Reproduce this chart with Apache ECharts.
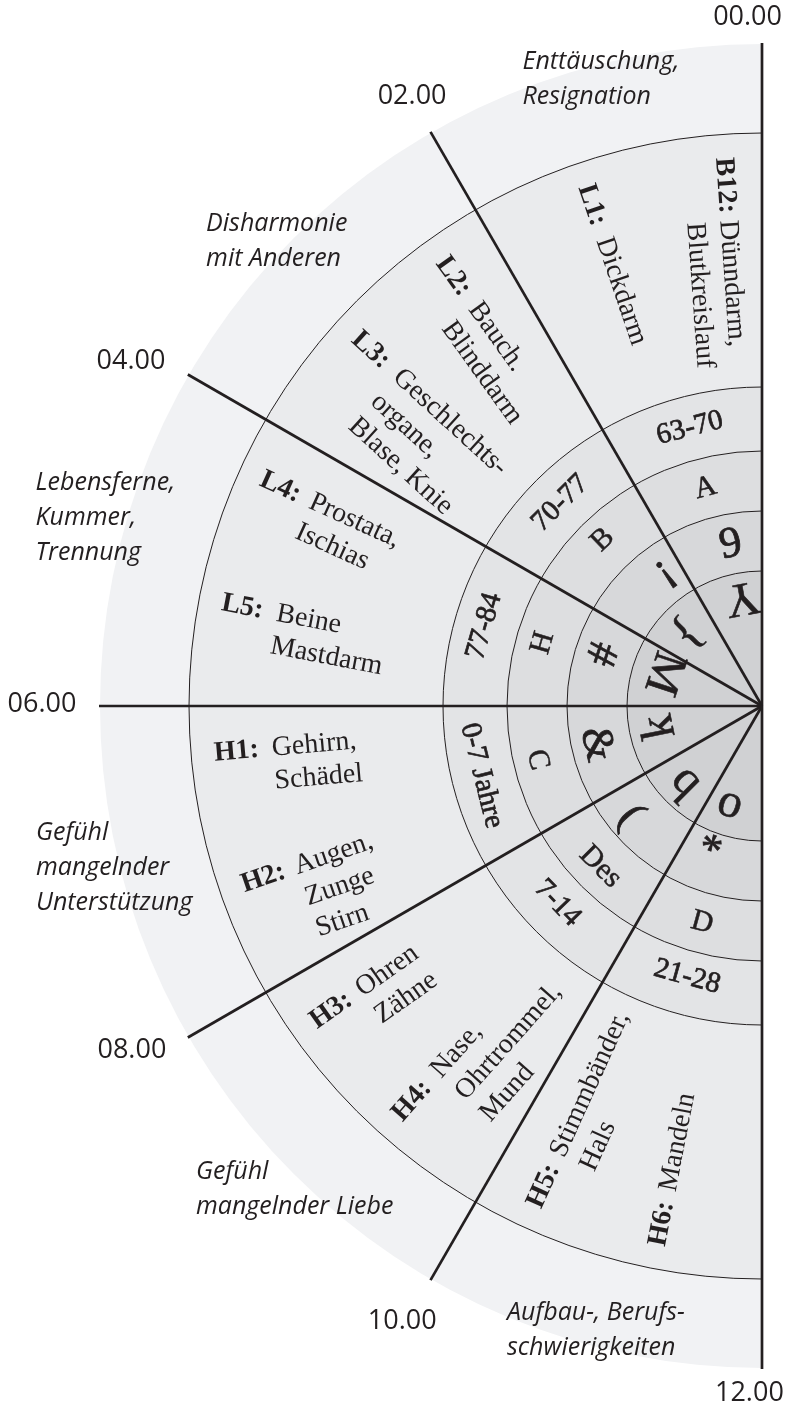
<!DOCTYPE html>
<html><head><meta charset="utf-8">
<script src="https://cdn.jsdelivr.net/npm/echarts@6/dist/echarts.min.js"></script>
<style>html,body{margin:0;padding:0;background:#fff}#chart{width:791px;height:1407px}</style>
</head><body><div id="chart"></div>
<script>
// ---------------- data ----------------
const hourMarks   = [0, 2, 4, 6, 8, 10, 12];
const hourLabels  = ['00.00', '02.00', '04.00', '06.00', '08.00', '10.00', '12.00'];
const ringRadii   = [0, 135, 195, 255, 319, 573, 662];           // ring boundaries (radius units)
const ageLabels   = ['63-70', '70-77', '77-84', '0-7 Jahre', '7-14', '21-28'];
const phaseLabels = ['A', 'B', 'H', 'C', 'Des', 'D'];
const signLabels  = ['9', '¡', '#', '&', '(', '*'];
const coreSigns   = ['Y', '}', 'M', 'k', 'b', 'o'];
const organCodes  = ['B12:', 'L1:', 'L2:', 'L3:', 'L4:', 'L5:', 'H1:', 'H2:', 'H3:', 'H4:', 'H5:', 'H6:'];
const organNames  = [
  'Dünndarm,\nBlutkreislauf', 'Dickdarm', 'Bauch.\nBlinddarm', 'Geschlechts-\norgane,\nBlase, Knie',
  'Prostata,\nIschias', 'Beine\nMastdarm', 'Gehirn,\nSchädel', 'Augen,\nZunge\nStirn',
  'Ohren\nZähne', 'Nase,\nOhrtrommel,\nMund', 'Stimmbänder,\nHals', 'Mandeln'];
const emotionTexts = [
  'Enttäuschung,\nResignation', 'Disharmonie\nmit Anderen', 'Lebensferne,\nKummer,\nTrennung',
  'Gefühl\nmangelnder\nUnterstützung', 'Gefühl\nmangelnder Liebe', 'Aufbau-, Berufs-\nschwierigkeiten'];

// ---------------- layout / style ----------------
const INK = '#231f20';
const SERIF = '"Liberation Serif", "DejaVu Serif", serif';
const SANS = '"Open Sans", "DejaVu Sans", sans-serif';
const ringFill = ['#d0d1d3', '#d7d8da', '#dddee0', '#e3e4e6', '#eaebed', '#f1f2f4'];
const ageAt   = [[287, 0.97], [286, 2.99], [289, 4.93], [289, 6.93], [284, 8.93], [281, 10.97]];
const phaseAt = [[225, 0.97], [230, 2.92], [228, 4.93], [231, 6.90], [228, 8.99], [225, 10.97]];
const signAt  = [[164, 0.73], [168, 2.40], [165, 4.80], [170, 6.87], [172, 8.67], [155, 10.67]];
const coreAt  = [[111, 0.69], [105, 3.05], [104, 4.77], [104, 6.77], [109, 9.00], [106, 10.80]];
const coreTurn = Math.PI;   // the core ring glyphs are set upside down
const organR = 550;
const organAt = [0.27, 1.25, 2.38, 3.18, 4.37, 5.28, 6.33, 7.27, 8.35, 9.23, 10.37, 11.27];
const organIndent = [63, 56, 56, 56, 54, 56, 58, 56, 56, 58, 56, 56];
const emotionAt = [[687, 1.36], [736, 3.27], [760, 4.86], [737, 6.66], [733, 8.63], [658, 10.48]];
const clockAt = [[689, 0.08], [703, 1.99], [719, 4.09], [720, 5.99], [718, 7.91], [713, 9.98], [687, 11.93]];

const ringMarks = [];
ageLabels.forEach((t, i) => ringMarks.push({text: t, r: ageAt[i][0], h: ageAt[i][1], font: '29px ' + SERIF, turn: 0, sw: 0.7}));
phaseLabels.forEach((t, i) => ringMarks.push({text: t, r: phaseAt[i][0], h: phaseAt[i][1], font: '30px ' + SERIF, turn: 0, sw: 0.5}));
signLabels.forEach((t, i) => ringMarks.push({text: t, r: signAt[i][0], h: signAt[i][1], font: '44px ' + SERIF, turn: 0, sw: 0.8}));
coreSigns.forEach((t, i) => ringMarks.push({text: t, r: coreAt[i][0], h: coreAt[i][1], font: '48px ' + SERIF, turn: coreTurn, sw: 0.6}));

// ---------------- helpers ----------------
function ctr(api) { return api.coord([0, 0]); }
function pixR(api, r) { const c = ctr(api), p = api.coord([r, 0]); return Math.hypot(p[0] - c[0], p[1] - c[1]); }
function scrAng(api, r, h) { const c = ctr(api), p = api.coord([r, h]); return Math.atan2(p[1] - c[1], p[0] - c[0]); }
function tangentRot(p, c, inward) {
  const ox = p[0] - c[0], oy = p[1] - c[1];
  return inward ? Math.atan2(ox, oy) : Math.atan2(-ox, -oy);
}
function txt(text, font, align, vAlign, extra) {
  return Object.assign({text: text, font: font, fill: INK, align: align, textAlign: align,
    verticalAlign: vAlign, textVerticalAlign: vAlign}, extra || {});
}
const R_MAX = ringRadii[ringRadii.length - 1];

const chart = echarts.init(document.getElementById('chart'));
chart.setOption({
  animation: false,
  backgroundColor: '#ffffff',
  polar: {center: [762, 706], radius: 662},
  angleAxis: {type: 'value', min: 0, max: 24, startAngle: 90, clockwise: false, show: false},
  radiusAxis: {type: 'value', min: 0, max: R_MAX, show: false},
  series: [
    { // ring fills
      type: 'custom', coordinateSystem: 'polar', silent: true, z: 1,
      data: ringFill.map((_, i) => [ringRadii[i + 1], 12]),
      renderItem: (params, api) => {
        const i = params.dataIndex, c = ctr(api);
        const a0 = scrAng(api, ringRadii[i + 1], 12), a1 = scrAng(api, ringRadii[i + 1], 0) + 2 * Math.PI;
        return {type: 'sector', shape: {cx: c[0], cy: c[1], r0: pixR(api, ringRadii[i]), r: pixR(api, ringRadii[i + 1]),
          startAngle: a0, endAngle: a1, clockwise: true}, style: {fill: ringFill[i]}};
      }
    },
    { // thin ring borders
      type: 'custom', coordinateSystem: 'polar', silent: true, z: 2,
      data: ringRadii.slice(1, ringRadii.length - 1).map(r => [r, 0]),
      renderItem: (params, api) => {
        const r = ringRadii[params.dataIndex + 1], c = ctr(api);
        return {type: 'arc', shape: {cx: c[0], cy: c[1], r: pixR(api, r),
          startAngle: scrAng(api, r, 12), endAngle: scrAng(api, r, 0) + 2 * Math.PI, clockwise: true},
          style: {stroke: INK, lineWidth: 1, fill: 'none'}};
      }
    },
    { // radial hour lines
      type: 'custom', coordinateSystem: 'polar', silent: true, z: 3,
      data: hourMarks.map(h => [R_MAX, h]),
      renderItem: (params, api) => {
        const c = ctr(api), p = api.coord([R_MAX + 1, hourMarks[params.dataIndex]]);
        return {type: 'line', shape: {x1: c[0], y1: c[1], x2: p[0], y2: p[1]},
          style: {stroke: INK, lineWidth: 2.7}};
      }
    },
    { // ring labels (ages, phases, signs)
      type: 'custom', coordinateSystem: 'polar', silent: true, z: 4,
      data: ringMarks.map(m => [m.r, m.h]),
      renderItem: (params, api) => {
        const m = ringMarks[params.dataIndex], c = ctr(api), p = api.coord([m.r, m.h]);
        return {type: 'text', x: p[0], y: p[1], rotation: tangentRot(p, c, m.h > 6) + m.turn,
          style: txt(m.text, m.font, 'center', 'middle', {stroke: INK, lineWidth: m.sw})};
      }
    },
    { // organ labels (radial, reading toward the centre)
      type: 'custom', coordinateSystem: 'polar', silent: true, z: 4,
      data: organAt.map(h => [organR, h]),
      renderItem: (params, api) => {
        const i = params.dataIndex, c = ctr(api), p = api.coord([organR, organAt[i]]);
        const rot = Math.atan2(-(c[1] - p[1]), c[0] - p[0]);
        const LH = 33;
        return {type: 'group', x: p[0], y: p[1], rotation: rot, children: [
          {type: 'text', x: 0, y: -LH / 2, style: txt(organCodes[i], 'bold 28px ' + SERIF, 'left', 'top', {lineHeight: LH})},
          {type: 'text', x: organIndent[i], y: -LH / 2, style: txt(organNames[i], '28px ' + SERIF, 'left', 'top', {lineHeight: LH})}
        ]};
      }
    },
    { // emotion labels
      type: 'custom', coordinateSystem: 'polar', silent: true, z: 4,
      data: emotionAt.map(a => [a[0], a[1]]),
      renderItem: (params, api) => {
        const i = params.dataIndex, p = api.coord(emotionAt[i]);
        const LH = 35;
        return {type: 'text', x: p[0], y: p[1] - LH / 2,
          style: txt(emotionTexts[i], 'italic 25px ' + SANS, 'left', 'top', {lineHeight: LH})};
      }
    },
    { // clock labels
      type: 'custom', coordinateSystem: 'polar', silent: true, z: 4,
      data: clockAt.map(a => [a[0], a[1]]),
      renderItem: (params, api) => {
        const i = params.dataIndex, p = api.coord(clockAt[i]);
        return {type: 'text', x: p[0], y: p[1], style: txt(hourLabels[i], '27px ' + SANS, 'center', 'middle')};
      }
    }
  ]
});
</script></body></html>
